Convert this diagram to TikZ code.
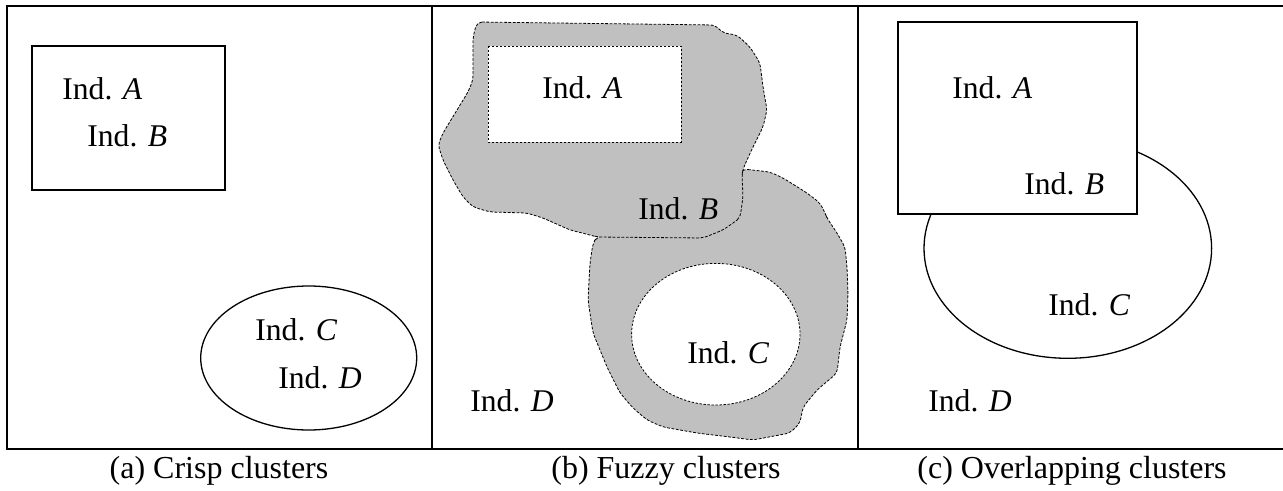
\documentclass[tikz,border=0pt]{standalone}
\usepackage{fontspec}
\setmainfont{Liberation Serif}
\definecolor{fuzzgray}{RGB}{192,192,192}

\begin{document}
\begin{tikzpicture}[x=0.5pt, y=-0.5pt,
  frame/.style={line width=1.1pt},
  crisp/.style={draw, line width=0.65pt, fill=white},
  fuzzy/.style={draw, line width=0.4pt, dash pattern=on 1.4pt off 0.8pt, fill=fuzzgray, rounded corners=2.5pt},
  core/.style={draw, line width=0.4pt, dash pattern=on 1.2pt off 0.8pt, fill=white},
  lbl/.style={inner sep=0pt, anchor=base west, font=\fontsize{15.8}{18}\selectfont},
  caption/.style={inner sep=0pt, anchor=base, font=\fontsize{16}{19}\selectfont}
]
\useasboundingbox (0,0) rectangle (1283,491);
% outer frame and panel dividers
\draw[frame] (1283,6) -- (7,6) -- (7,449) -- (1283,449);
\draw[frame] (432,6) -- (432,449);
\draw[frame] (858,6) -- (858,449);

% (a) crisp
\draw[crisp] (32,46) rectangle (225,190);
\draw[crisp] (308.7,358) ellipse [x radius=108, y radius=72];
\node[lbl] (aA) at (62,100) {Ind. \textit{A}};
\node[lbl] (aB) at (87,147) {Ind. \textit{B}};
\node[lbl] (aC) at (255,340) {Ind. \textit{C}};
\node[lbl] (aD) at (278,388) {Ind. \textit{D}};
\node[caption] (capa) at (219,478) {(a) Crisp clusters};

% (b) fuzzy
\draw[fuzzy] (743,169) -- (770,172) -- (783,178) -- (807,193) -- (820,203)
  -- (825,213) -- (827,218) -- (837,233) -- (845,247) -- (847,267)
  -- (848,293) -- (847,320) -- (840,347) -- (837,373) -- (817,390)
  -- (803,407) -- (800,423) -- (790,433) -- (753,440) -- (730,437)
  -- (697,433) -- (663,427) -- (647,420) -- (633,408) -- (620,393)
  -- (607,367) -- (593,333) -- (588,300) -- (590,263) -- (593,243)
  -- (597,237) -- (700,220) -- cycle;
\draw[fuzzy] (477,22) -- (715,25) -- (723,33) -- (737,35) -- (750,47)
  -- (760,63) -- (763,87) -- (767,110) -- (763,127) -- (753,147)
  -- (747,160) -- (743,169) -- (742,175) -- (743,197) -- (740,218)
  -- (733,223) -- (723,230) -- (703,238) -- (597,237) -- (590,235)
  -- (570,230) -- (543,218) -- (527,213) -- (490,212) -- (473,207)
  -- (463,197) -- (453,180) -- (443,160) -- (438,145) -- (443,133)
  -- (457,110) -- (468,92) -- (473,80) -- (473,57) -- (473,37) -- cycle;
\draw[core] (488,46) rectangle (681,142);
\draw[core] (715.8,334.2) ellipse [x radius=84.2, y radius=70.8];
\node[lbl] (bA) at (542,99) {Ind. \textit{A}};
\node[lbl] (bB) at (638,220) {Ind. \textit{B}};
\node[lbl] (bC) at (687,363) {Ind. \textit{C}};
\node[lbl] (bD) at (470,411) {Ind. \textit{D}};
\node[caption] (capb) at (666,478) {(b) Fuzzy clusters};

% (c) overlapping
\draw[crisp] (1067.8,248.3) ellipse [x radius=143.8, y radius=110];
\draw[crisp] (898,22) rectangle (1137,214);
\node[lbl] (cA) at (952,99) {Ind. \textit{A}};
\node[lbl] (cB) at (1024,195) {Ind. \textit{B}};
\node[lbl] (cC) at (1048,315) {Ind. \textit{C}};
\node[lbl] (cD) at (928,411) {Ind. \textit{D}};
\node[caption] (capc) at (1072,478) {(c) Overlapping clusters};
\end{tikzpicture}
\end{document}
